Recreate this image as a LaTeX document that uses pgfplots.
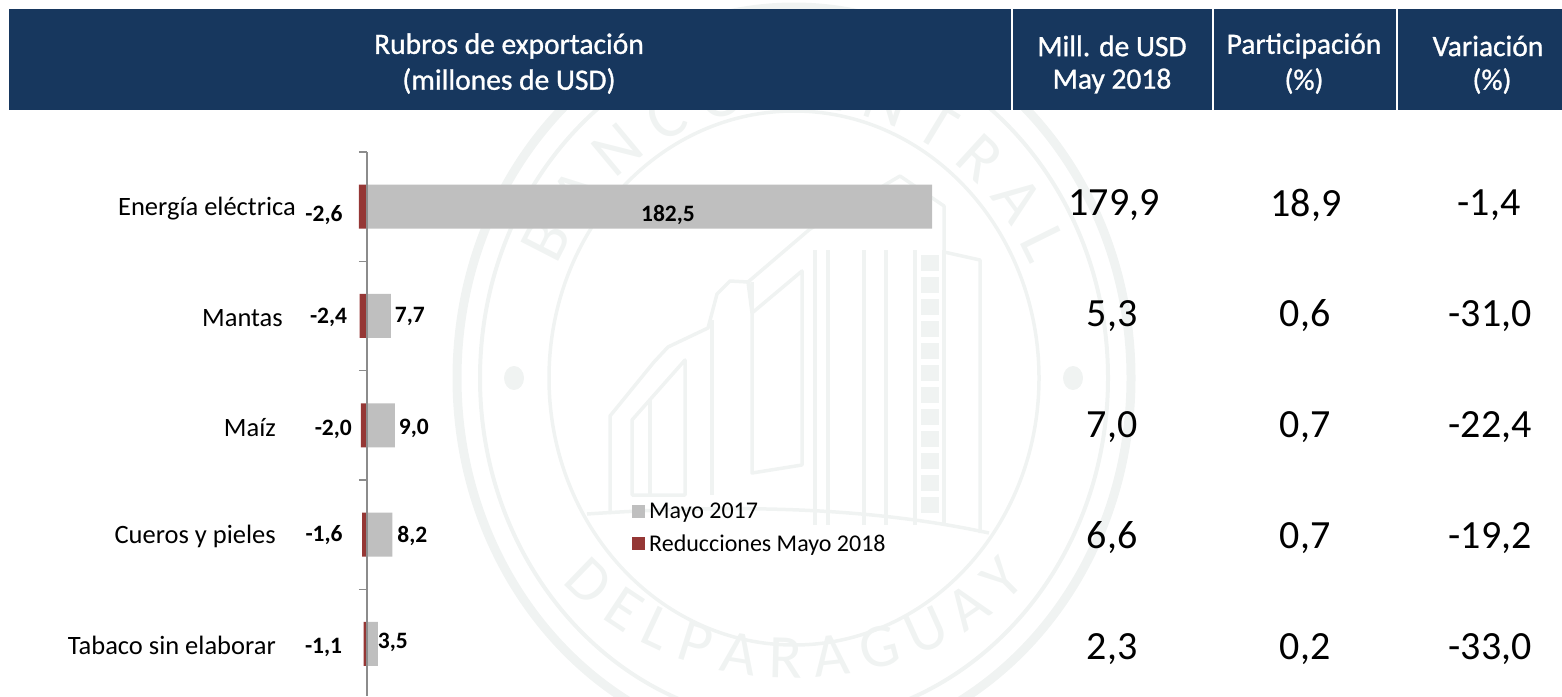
\documentclass[border=0pt]{standalone}
\usepackage{fontspec}
\setmainfont{Carlito}
\newfontfamily\headfont[FakeBold=1]{Carlito}
\usepackage{pgfplots}
\pgfplotsset{compat=1.18}
\usetikzlibrary{decorations.text}

\definecolor{navy}{HTML}{17375E}
\definecolor{barg}{HTML}{BFBFBF}
\definecolor{barr}{HTML}{953735}
\definecolor{seal}{HTML}{F0F3F2}
\newcommand{\fs}[1]{\fontsize{#1}{#1}\selectfont}

\begin{document}
\begin{tikzpicture}
\begin{scope}[x=1pt,y=-1pt]
\path[use as bounding box] (0,0) rectangle (1562,696);
\begin{scope}
\clip (0,0) rectangle (1562,696);

% seal behind the chart
\begin{scope}[seal, draw=seal, line width=3.5pt, line join=round]
  \draw[line width=9pt] (794,378) ellipse [x radius=337, y radius=371];
  \draw[line width=4pt] (794,378) ellipse [x radius=314, y radius=345];
  \draw (794,378) ellipse [x radius=245, y radius=267];
  \fill (514,378) ellipse [x radius=10, y radius=12];
  \fill (1073,378) ellipse [x radius=10, y radius=12];
  \path[decorate, decoration={text along path, text align=center,
      text={|\fs{66}\color{seal}|B A N C O   C E N T R A L}}]
    (552,278) .. controls (640,50) and (948,50) .. (1036,278);
  \path[decorate, decoration={text along path, text align=center,
      text={|\fs{62}\color{seal}|D E L   P A R A G U A Y}}]
    (535,545) .. controls (640,722) and (948,722) .. (1053,545);
  % building
  \draw (610,514) -- (610,416) -- (654,362) -- (668,347) -- (708,328) -- (717,294)
        -- (730,281) -- (748,282) -- (752,313) -- (802,271) -- (802,465) -- (752,473) -- (752,282);
  \draw (810,229) -- (900,176) -- (944,206) -- (944,252) -- (980,260) -- (980,533);
  \draw (748,282) -- (810,229);
  \draw (587,514) .. controls (720,505) and (860,505) .. (989,533);
  \draw (632,495) -- (632,420) -- (685,360) -- (685,495) -- cycle;
  \draw (650,495) -- (650,400);
  \draw (712,495) -- (712,320);
  \foreach \vx in {815,828,864,886,915,944} \draw (\vx,250) -- (\vx,525);
  \draw[line width=18pt, dash pattern=on 16pt off 6pt] (930,255) -- (930,515);
\end{scope}

% table header
\fill[navy] (9,9) rectangle (1562,110);
\foreach \sx in {1011,1212,1396} \fill[white] (\sx,9) rectangle (\sx+2,110);
\begin{scope}[every node/.style={white, font=\headfont\fs{29.5}, inner sep=0pt}]
  \node at (509,46) {Rubros de exportación};
  \node at (509,81) {(millones de USD)};
  \node at (1112,46) {Mill. de USD};
  \node at (1112,81) {May 2018};
  \node at (1304,46) {Participación};
  \node at (1304,81) {(\%)};
  \node at (1488,46) {Variación};
  \node at (1492,81) {(\%)};
\end{scope}

% table values
\begin{scope}[every node/.style={black, font=\fs{40}, inner sep=0pt}]
  \node at (1114,205) {179,9}; \node at (1306,205) {18,9}; \node at (1489,205) {-1,4};
  \node at (1112,316) {5,3};   \node at (1305,316) {0,6};  \node at (1490,316) {-31,0};
  \node at (1112,427) {7,0};   \node at (1305,427) {0,7};  \node at (1490,427) {-22,4};
  \node at (1112,538) {6,6};   \node at (1305,538) {0,7};  \node at (1490,538) {-19,2};
  \node at (1112,649) {2,3};   \node at (1305,649) {0,2};  \node at (1490,649) {-33,0};
\end{scope}
\end{scope}
\end{scope}

\begin{axis}[
    at={(367pt,-152pt)}, anchor=north west,
    scale only axis,
    width=565pt, height=544pt,
    xbar, bar shift=0pt, bar width=44pt,
    xmin=0, xmax=182.5,
    ymin=-0.5, ymax=4.477,
    y dir=reverse,
    clip=false,
    axis on top,
    axis x line=none,
    axis y line=left,
    axis line style={-, draw=gray!90, line width=1.3pt},
    ytick={0,1,2,3,4},
    yticklabels={
        {Energía eléctrica},
        {Mantas\rule{13pt}{0pt}},
        {Maíz\rule{20pt}{0pt}},
        {Cueros y pieles\rule{20pt}{0pt}},
        {Tabaco sin elaborar\rule{20pt}{0pt}}
    },
    yticklabel style={font=\fs{26.5}, anchor=east, xshift=-71pt, yshift=-2pt, inner sep=0pt},
    minor ytick={-0.5,0.5,1.5,2.5,3.5},
    tick align=outside,
    major tick length=0pt,
    minor tick length=8pt,
    minor tick style={draw=gray!90, line width=1.2pt},
    point meta=explicit symbolic,
    nodes near coords,
    nodes near coords style={font=\fs{23.5}\bfseries, black, inner sep=0pt},
    visualization depends on={value \thisrow{dx} \as \dxv},
    visualization depends on={value \thisrow{dy} \as \dyv},
    every node near coord/.append style={anchor=center, xshift=\dxv pt, yshift=\dyv pt},
    legend cell align=left,
    legend style={
        at={(0.469,0.359)}, anchor=north west,
        draw=none, fill=none,
        font=\fs{24},
        inner sep=0pt,
        row sep=10.5pt,
        /tikz/every odd column/.append style={column sep=2pt},
    },
    legend image code/.code={\fill[#1] (0pt,-6.5pt) rectangle (13pt,6.5pt);},
]

% Mayo 2017
\addplot[fill=barg, draw=none] table[x=x, y=y, meta=lab] {
x y lab dx dy
182.5 0 182,5 -264 -8
7.7 1 7,7 19 -1
9.0 2 9,0 19 -3
8.2 3 8,2 20 -1
3.5 4 3,5 15 1
};
\addlegendentry{Mayo 2017}

% Reducciones Mayo 2018
\addplot[fill=barr, draw=none] table[x=x, y=y, meta=lab] {
x y lab dx dy
-2.6 0 -2,6 -35 -8
-2.4 1 -2,4 -31 -1
-2.0 2 -2,0 -27.5 -4
-1.6 3 -1,6 -38 0
-1.1 4 -1,1 -40 -4
};
\addlegendentry{Reducciones Mayo 2018}

\end{axis}
\end{tikzpicture}
\end{document}
